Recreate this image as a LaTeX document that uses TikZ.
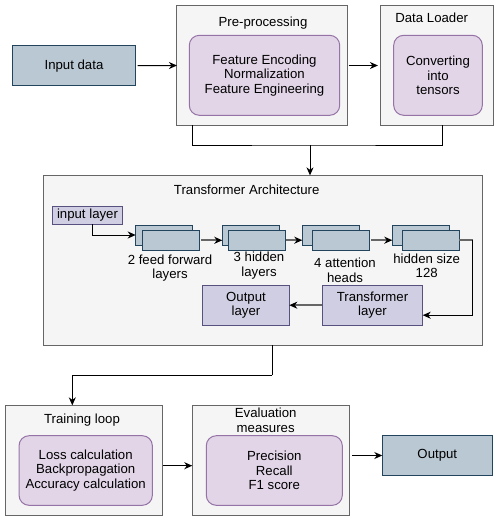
\documentclass[tikz,border=0pt]{standalone}
\usepackage{fontspec}
\setmainfont{Liberation Sans}
\usetikzlibrary{arrows.meta,calc}
\definecolor{blueF}{HTML}{BAC8D3}
\definecolor{blueD}{HTML}{23445D}
\definecolor{contF}{HTML}{F5F5F5}
\definecolor{contD}{HTML}{666666}
\definecolor{purF}{HTML}{E1D5E7}
\definecolor{purD}{HTML}{9673A6}
\definecolor{layF}{HTML}{D0CEE2}
\definecolor{layD}{HTML}{56517E}
\begin{document}
\begin{tikzpicture}[x=1pt,y=-1pt,
  every node/.style={inner sep=0pt,outer sep=0pt,font=\fontsize{13.2}{14.6}\selectfont,align=center},
  bluebox/.style={draw=blueD,fill=blueF,line width=1pt},
  contbox/.style={draw=contD,fill=contF,line width=1pt},
  purbox/.style={draw=purD,fill=purF,line width=1pt,rounded corners=10pt},
  laybox/.style={draw=layD,fill=layF,line width=1pt},
  stk/.style={bluebox,minimum width=57pt,minimum height=20pt},
  lbl/.style={text=black},
  arr/.style={line width=1pt,-{Stealth[length=8pt,width=7pt,inset=2.5pt]}},
  garr/.style={line width=1.8pt,draw=contD,-{Stealth[length=8pt,width=7pt,inset=2.5pt,color=black,fill=black]}},
  wire/.style={line width=1pt}]
\useasboundingbox (0,0) rectangle (498,522);

% top row
\node[bluebox,minimum width=123.4pt,minimum height=40pt] (in) at (74,65.7) {Input data};
\node[contbox,minimum width=170.7pt,minimum height=119.6pt] (pre) at (262.3,65.5) {};
\node[lbl] (pret) at (263,23) {Pre-processing};
\node[purbox,minimum width=150.4pt,minimum height=80pt] (prei) at (264.5,75.3) {Feature Encoding\\Normalization\\Feature Engineering};
\node[contbox,minimum width=112.7pt,minimum height=119.6pt] (dl) at (437.3,65.5) {};
\node[lbl] (dlt) at (431.7,17.5) {Data Loader};
\node[purbox,minimum width=88.6pt,minimum height=80pt] (dli) at (438,75.3) {Converting\\into\\tensors};

% transformer
\node[contbox,minimum width=439.4pt,minimum height=169.7pt] (ta) at (263,260.2) {};
\node[lbl] (tat) at (246.7,190) {Transformer Architecture};
\node[laybox,minimum width=69.6pt,minimum height=17.6pt] (il) at (87.5,215.5) {input layer};

\node[stk] (ff1) at (164.2,235) {};
\node[stk] (ff2) at (170.8,240.3) {};
\node[lbl] (fft) at (170,268.2) {2 feed forward\\layers};
\node[stk] (hd1) at (250.8,235) {};
\node[stk] (hd2) at (257,240.2) {};
\node[lbl] (hdt) at (259,265.5) {3 hidden\\layers};
\node[stk] (at1) at (330.8,235) {};
\node[stk] (at2) at (340.7,240.2) {};
\node[lbl] (att) at (345,270) {4 attention\\heads};
\node[stk] (hs1) at (420.8,235) {};
\node[stk] (hs2) at (430.8,240.2) {};
\node[lbl] (hst) at (426.7,265.8) {hidden size\\128};

\node[laybox,minimum width=100.4pt,minimum height=39.7pt] (tl) at (372.5,305.2) {Transformer\\layer};
\node[laybox,minimum width=86.6pt,minimum height=39.7pt] (ol) at (246,305.2) {Output\\layer};

% bottom row
\node[contbox,minimum width=156.6pt,minimum height=109.7pt] (tr) at (84,460.2) {};
\node[lbl] (trt) at (82,420) {Training loop};
\node[purbox,minimum width=133.3pt,minimum height=69.6pt] (tri) at (85.7,470.5) {Loss calculation\\Backpropagation\\Accuracy calculation};
\node[contbox,minimum width=157pt,minimum height=109.7pt] (ev) at (270.8,460.2) {};
\node[lbl] (evt) at (265.7,420.2) {Evaluation\\measures};
\node[purbox,minimum width=136pt,minimum height=69.6pt] (evi) at (274.3,470.5) {Precision\\Recall\\F1 score};
\node[bluebox,minimum width=110pt,minimum height=39.6pt] (out) at (437.3,455.5) {Output};

% connectors
\draw[arr,shorten <=2pt] (in.east) -- (pre.west);
\draw[arr,shorten <=1pt,shorten >=3pt] (pre.east) -- (dl.west);
\coordinate (m) at (310,145);
\draw[wire] ([xshift=15.7pt]pre.south west) |- (m) -| ([xshift=5.4pt]dl.south);
\draw[arr] (m) -- (m |- ta.north);

\draw[arr] ([xshift=4.8pt]il.south) |- (ff1.west);
\draw[garr,shorten <=2pt] (ff2.east) -- (ff2.east -| hd1.west);
\draw[garr] (hd2.east) -- (hd2.east -| at1.west);
\draw[garr,shorten <=2pt] (at2.east) -- (at2.east -| hs1.west);
\coordinate (hc) at (472.7,240.2);
\draw[line width=1.8pt,draw=contD] (hs2.east) -- (hc);
\draw[arr] (hc) |- ([yshift=-10pt]tl.east);
\draw[garr] (tl.west) -- (ol.east);

\coordinate (bc) at (272.3,375);
\draw[wire] (ta.south -| bc) -- (bc);
\draw[arr] (bc) -| ([xshift=-11.7pt]tr.north);
\draw[arr,shorten <=1pt] ([yshift=-5.5pt]tr.east) -- ([yshift=-5.5pt]tr.east -| ev.west);
\draw[arr,shorten <=3pt] (ev.east |- out.west) -- (out.west);
\end{tikzpicture}
\end{document}
